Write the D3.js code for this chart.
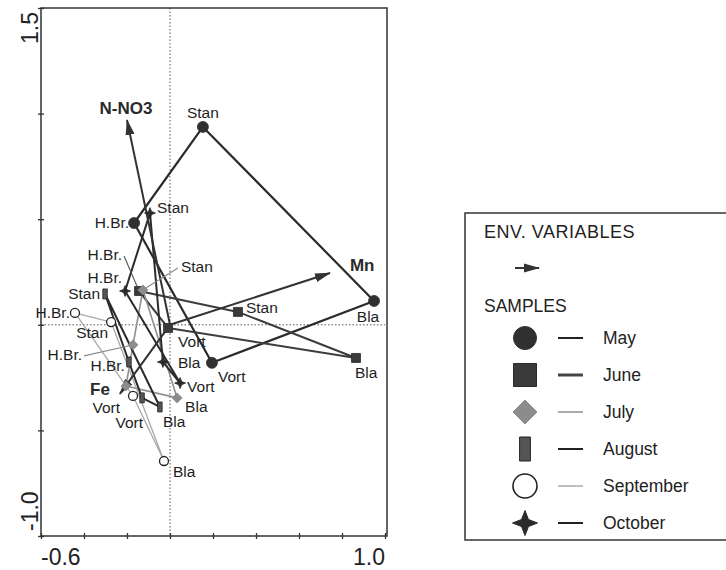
<!DOCTYPE html>
<html>
<head>
<meta charset="utf-8">
<script src="https://cdn.jsdelivr.net/npm/d3@7"></script>
<style>
  body { margin: 0; background: #fff; }
  svg { display: block; font-family: "Liberation Sans", Arial, sans-serif; }
</style>
</head>
<body>
<svg id="chart" width="726" height="570"></svg>
<script>
// sites sampled each month, joined in this order (closed polygon)
var sites = ["Stan", "H.Br.", "Vort", "Bla"];
var months = ["May", "June", "July", "August", "September", "October"];

// ordination scores, one value per site (Stan, H.Br., Vort, Bla)
var mayX = [0.153, -0.167, 0.195, 0.949];
var mayY = [0.937, 0.482, -0.180, 0.113];
var juneX = [0.316, -0.144, -0.009, 0.865];
var juneY = [0.061, 0.160, -0.015, -0.157];
var julyX = [-0.126, -0.172, -0.205, 0.033];
var julyY = [0.165, -0.095, -0.290, -0.346];
var augX = [-0.302, -0.191, -0.130, -0.047];
var augY = [0.146, -0.176, -0.346, -0.389];
var sepX = [-0.274, -0.442, -0.172, -0.028];
var sepY = [0.013, 0.056, -0.337, -0.645];
var octX = [-0.093, -0.209, 0.047, -0.033];
var octY = [0.529, 0.160, -0.276, -0.176];

// environmental variables (arrow tips)
var envNames = ["N-NO3", "Mn", "Fe"];
var envX = [-0.200, 0.744, -0.233];
var envY = [0.970, 0.245, -0.327];

// axes
var xDomain = [-0.6, 1.0];
var yDomain = [-1.0, 1.5];
var xTickLabels = ["-0.6", "1.0"];
var yTickLabels = ["-1.0", "1.5"];

var seriesX = [mayX, juneX, julyX, augX, sepX, octX];
var seriesY = [mayY, juneY, julyY, augY, sepY, octY];

// ---- look of each month: [line colour, line width, fill, stroke]
var monthStyle = [
  ["#2b2b2b", 2.2, "#303030", "#303030"],
  ["#3d3d3d", 2.0, "#3a3a3a", "#2a2a2a"],
  ["#8e8e8e", 1.6, "#8c8c8c", "#8c8c8c"],
  ["#2b2b2b", 2.0, "#555", "#222"],
  ["#a9a9a9", 1.3, "#fff", "#222"],
  ["#2b2b2b", 2.0, "#2a2a2a", "#2a2a2a"]
];

// custom marker shapes (size = r*r)
var circ = {draw: function(c, s) { var r = Math.sqrt(s); c.moveTo(r, 0); c.arc(0, 0, r, 0, 2 * Math.PI); }};
var sq = {draw: function(c, s) { var r = Math.sqrt(s); c.rect(-r, -r, 2 * r, 2 * r); }};
var diam = {draw: function(c, s) { var r = Math.sqrt(s); c.moveTo(0, -r); c.lineTo(r, 0); c.lineTo(0, r); c.lineTo(-r, 0); c.closePath(); }};
var bar = {draw: function(c, s) { var r = Math.sqrt(s); c.rect(-r * 0.45, -r, r * 0.9, 2 * r); }};
var star4 = {draw: function(c, s) {
  var r = Math.sqrt(s), k = r * 0.28;
  c.moveTo(0, -r); c.lineTo(k, -k); c.lineTo(r, 0); c.lineTo(k, k);
  c.lineTo(0, r); c.lineTo(-k, k); c.lineTo(-r, 0); c.lineTo(-k, -k); c.closePath();
}};
var monthShape = [circ, sq, diam, bar, circ, star4];
var plotR = [5.5, 4.5, 5, 5, 4.5, 5.5];
var legendR = [11.5, 11.5, 12, 12, 12, 12.5];

// label placement relative to point: [dx, dy, anchor, leader]
var labelSpots = [
  [[0, -9, "middle"], [-5, 5, "end"], [6, 19, "start"], [-6, 21, "middle"]],
  [[8, 1, "start"], [-17, -31, "end", 1], [10, 19, "start"], [-1, 20, "start"]],
  [[38, -18, "start", 1], [-51, 15, "end", 1], null, [8, 14, "start"]],
  [[-5, 5, "end"], [-4, 9, "end"], [1, 30, "end"], [3, 20, "start"]],
  [[-3, 16, "end"], [-5, 5, "end"], [-13, 17, "end"], [9, 16, "start"]],
  [[7, 0, "start"], [-3, -8, "end"], [7, 9, "start"], [15, 6, "start"]]
];
var envLabelSpots = [[-1, -6, "middle"], [20, -2, "start"], [-10, 1, "end"]];

var svg = d3.select("#chart");
var x = d3.scaleLinear().domain(xDomain).range([41, 385]);
var y = d3.scaleLinear().domain(yDomain).range([536, 8]);

svg.append("defs").append("marker")
  .attr("id", "head")
  .attr("markerUnits", "userSpaceOnUse")
  .attr("markerWidth", 16).attr("markerHeight", 10)
  .attr("viewBox", "0 -5 16 10")
  .attr("refX", 15).attr("refY", 0)
  .attr("orient", "auto")
  .append("path")
  .attr("d", "M0,-4.5L16,0L0,4.5Z")
  .attr("fill", "#333");

// dotted zero lines
svg.append("line")
  .attr("x1", x(0)).attr("x2", x(0)).attr("y1", y(yDomain[1])).attr("y2", y(yDomain[0]))
  .attr("stroke", "#555").attr("stroke-width", 1).attr("stroke-dasharray", "1.5,2");
svg.append("line")
  .attr("x1", x(xDomain[0])).attr("x2", x(xDomain[1])).attr("y1", y(0)).attr("y2", y(0))
  .attr("stroke", "#555").attr("stroke-width", 1).attr("stroke-dasharray", "1.5,2");

// frame + axes ticks
svg.append("rect")
  .attr("x", x(xDomain[0])).attr("y", y(yDomain[1]))
  .attr("width", x(xDomain[1]) - x(xDomain[0]) + 2)
  .attr("height", y(yDomain[0]) - y(yDomain[1]))
  .attr("fill", "none").attr("stroke", "#333").attr("stroke-width", 1.5);

var xAxis = svg.append("g")
  .attr("transform", "translate(0," + y(yDomain[0]) + ")")
  .call(d3.axisBottom(x).tickValues(d3.range(-0.6, 1.01, 0.2)).tickSize(6).tickFormat(""));
var yAxis = svg.append("g")
  .attr("transform", "translate(" + x(xDomain[0]) + ",0)")
  .call(d3.axisLeft(y).tickValues(d3.range(-1.0, 1.51, 0.5)).tickSize(6).tickFormat(""));
xAxis.select(".domain").remove();
yAxis.select(".domain").remove();
xAxis.selectAll(".tick line").attr("y1", -3).attr("y2", 3).attr("stroke", "#333").attr("stroke-width", 1.3);
yAxis.selectAll(".tick line").attr("x1", -3).attr("x2", 3).attr("stroke", "#333").attr("stroke-width", 1.3);

svg.selectAll(".xend").data(xTickLabels).enter().append("text")
  .attr("x", function(d) { return x(+d); })
  .attr("y", 565)
  .attr("text-anchor", function(d, i) { return i === 0 ? "start" : "end"; })
  .attr("font-size", 23).attr("fill", "#222")
  .text(function(d) { return d; });
svg.selectAll(".yend").data(yTickLabels).enter().append("text")
  .attr("transform", function(d) { return "translate(38," + (+d > 0 ? y(+d) + 4 : y(+d) - 5) + ") rotate(-90)"; })
  .attr("text-anchor", function(d, i) { return i === 0 ? "start" : "end"; })
  .attr("font-size", 23).attr("fill", "#222")
  .text(function(d) { return d; });

// month polygons
var line = d3.line().curve(d3.curveLinearClosed);
months.forEach(function(m, i) {
  var pts = sites.map(function(s, j) { return [x(seriesX[i][j]), y(seriesY[i][j])]; });
  svg.append("path")
    .attr("d", line(pts))
    .attr("fill", "none")
    .attr("stroke", monthStyle[i][0])
    .attr("stroke-width", monthStyle[i][1])
    .attr("stroke-linejoin", "round");
});

// env arrows
envNames.forEach(function(n, i) {
  svg.append("line")
    .attr("x1", x(0)).attr("y1", y(0))
    .attr("x2", x(envX[i])).attr("y2", y(envY[i]))
    .attr("stroke", "#333").attr("stroke-width", 2)
    .attr("marker-end", "url(#head)");
  svg.append("text")
    .attr("x", x(envX[i]) + envLabelSpots[i][0])
    .attr("y", y(envY[i]) + envLabelSpots[i][1])
    .attr("text-anchor", envLabelSpots[i][2])
    .attr("font-size", 17).attr("font-weight", "bold").attr("fill", "#2a2a2a")
    .text(n);
});

// markers and labels
months.forEach(function(m, i) {
  var st = monthStyle[i];
  sites.forEach(function(s, j) {
    var px = x(seriesX[i][j]), py = y(seriesY[i][j]);
    svg.append("path")
      .attr("d", d3.symbol().type(monthShape[i]).size(plotR[i] * plotR[i])())
      .attr("transform", "translate(" + px + "," + py + ")")
      .attr("fill", st[2]).attr("stroke", st[3]).attr("stroke-width", i === 4 ? 1.3 : 0.8);
    var sp = labelSpots[i][j];
    if (!sp) return;
    var lx = px + sp[0], ly = py + sp[1];
    if (sp[3]) {
      var sx = lx + (sp[2] === "end" ? 2 : -3), sy = ly - 4;
      var ang = Math.atan2(py - sy, px - sx);
      svg.append("line")
        .attr("x1", sx).attr("y1", sy)
        .attr("x2", px - 4 * Math.cos(ang)).attr("y2", py - 4 * Math.sin(ang))
        .attr("stroke", i === 1 ? "#555" : "#8a8a8a").attr("stroke-width", 1.1);
    }
    svg.append("text")
      .attr("x", lx).attr("y", ly)
      .attr("text-anchor", sp[2])
      .attr("font-size", 15.5).attr("fill", "#1e1e1e")
      .text(s);
  });
});

// legend
var lg = svg.append("g");
lg.append("rect")
  .attr("x", 465).attr("y", 213).attr("width", 300).attr("height", 327)
  .attr("fill", "#fff").attr("stroke", "#333").attr("stroke-width", 1.5);
lg.append("text").attr("x", 484).attr("y", 238).attr("font-size", 18).attr("letter-spacing", 0.5)
  .attr("fill", "#222").text("ENV. VARIABLES");
lg.append("line")
  .attr("x1", 515).attr("y1", 268).attr("x2", 539).attr("y2", 268)
  .attr("stroke", "#333").attr("stroke-width", 2).attr("marker-end", "url(#head)");
lg.append("text").attr("x", 484).attr("y", 312).attr("font-size", 17.5).attr("fill", "#222").text("SAMPLES");

var legendLineW = [2, 3, 2, 2, 1.5, 2];
var legendLineC = ["#222", "#444", "#aaa", "#222", "#aaa", "#222"];
var rowY = d3.scaleLinear().domain([0, months.length - 1]).range([338, 523]);
months.forEach(function(m, i) {
  var st = monthStyle[i];
  lg.append("path")
    .attr("d", d3.symbol().type(monthShape[i]).size(legendR[i] * legendR[i])())
    .attr("transform", "translate(525," + rowY(i) + ")")
    .attr("fill", st[2]).attr("stroke", st[3]).attr("stroke-width", i === 4 ? 1.6 : 1);
  lg.append("line")
    .attr("x1", 558).attr("x2", 583).attr("y1", rowY(i)).attr("y2", rowY(i))
    .attr("stroke", legendLineC[i]).attr("stroke-width", legendLineW[i]);
  lg.append("text")
    .attr("x", 603).attr("y", rowY(i) + 6)
    .attr("font-size", 17.5).attr("fill", "#222")
    .text(m);
});
</script>
</body>
</html>
